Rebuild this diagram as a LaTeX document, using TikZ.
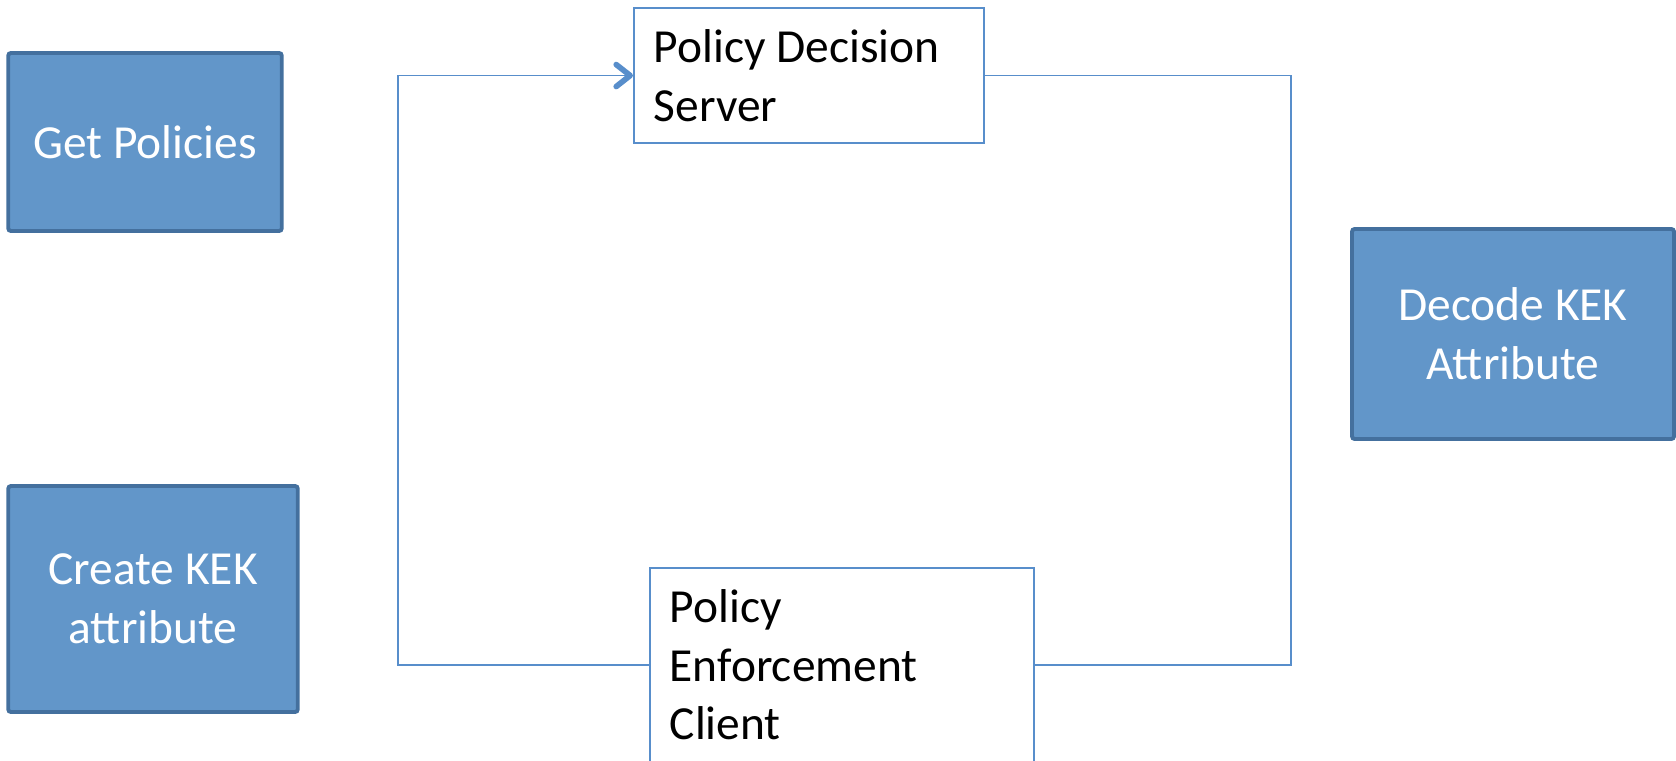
\documentclass[tikz,border=0pt]{standalone}
\usepackage{fontspec}
\setmainfont{Carlito}
\usetikzlibrary{arrows.meta}
\definecolor{stepfill}{RGB}{98,150,201}
\definecolor{stepline}{RGB}{68,112,158}
\definecolor{flowline}{RGB}{88,142,203}
\begin{document}
\begin{tikzpicture}[
  font=\fontsize{27}{33.4}\selectfont,
  bluebox/.style={draw=stepline, fill=stepfill, line width=2.2pt, rounded corners=1.5pt, text=white, align=center, inner sep=0pt},
  whitebox/.style={draw=flowline, fill=white, line width=0.9pt, text=black, align=flush left, anchor=north west, inner xsep=0.4cm, inner ysep=0.3cm},
  conn/.style={draw=flowline, line width=0.9pt},
  >={Straight Barb[length=2.8mm, width=4.4mm, line width=3.2pt, round]}
]
\useasboundingbox (0,0) rectangle (33.52,15.2);
\node[bluebox, minimum width=5.47cm, minimum height=3.56cm] (getpol) at (2.9,12.36) {Get Policies};
\node[bluebox, minimum width=5.79cm, minimum height=4.52cm] (createkek) at (3.06,3.22) {Create KEK\\attribute};
\node[bluebox, minimum width=6.44cm, minimum height=4.2cm] (decodekek) at (30.26,8.52) {Decode KEK\\Attribute};
\node[whitebox, text width=6.2cm, minimum height=2.69cm] (pds) at (12.66,15.05) {Policy Decision\\Server};
\node[whitebox, text width=6.88cm, minimum height=3.88cm] (pec) at (12.98,3.86) {Policy\\Enforcement\\Client};
\coordinate (lside) at (7.96,8);
\coordinate (rside) at (25.82,8);
\draw[conn, ->] (pec.west) -| (lside) |- (pds.west);
\draw[conn] (pds.east) -| (rside) |- (pec.east);
\end{tikzpicture}
\end{document}
